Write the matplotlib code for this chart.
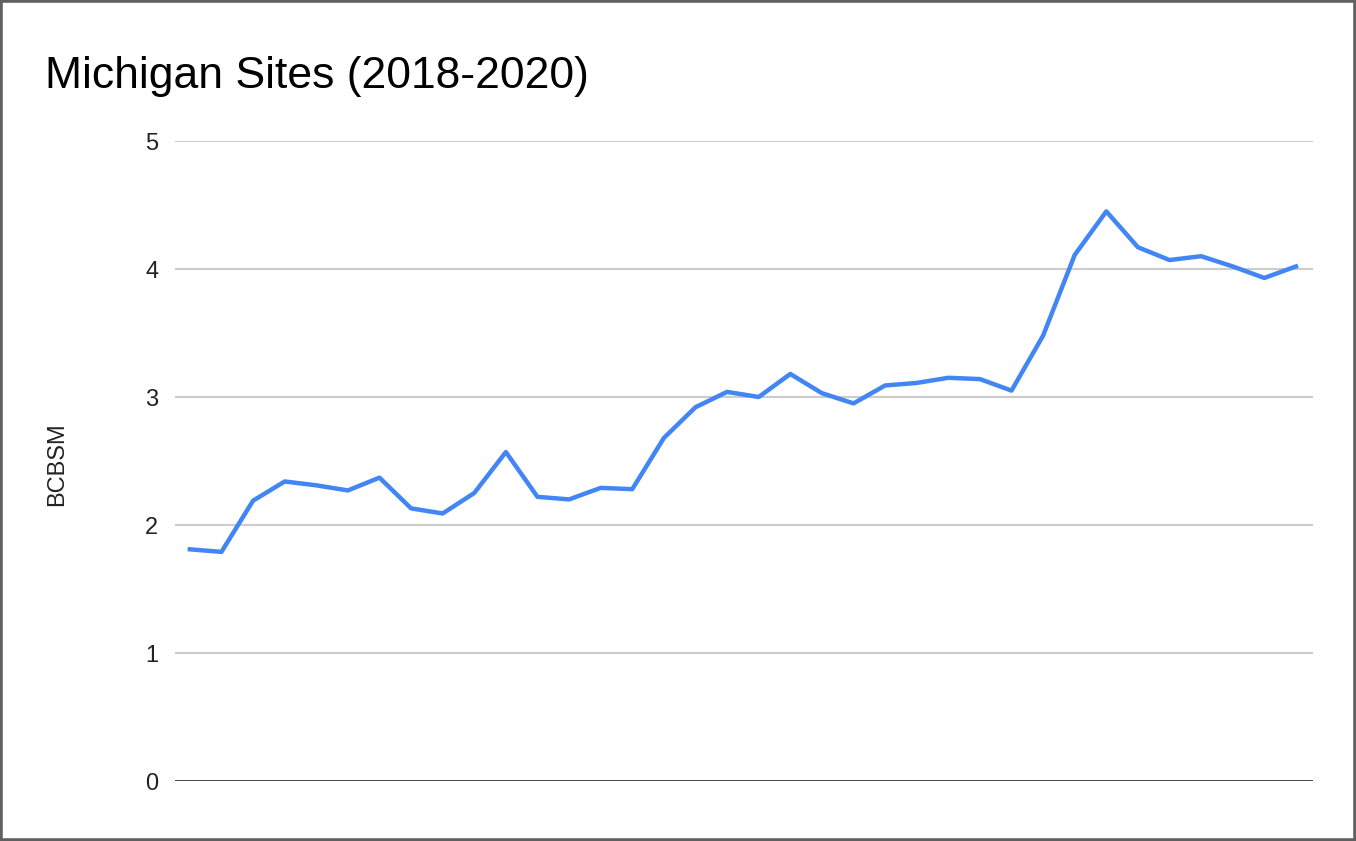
import numpy as np
import matplotlib.pyplot as plt
from matplotlib.patches import Rectangle

plt.rcParams['font.family'] = ['Liberation Sans', 'DejaVu Sans']

# BCBSM values, one per period (no x labels shown in the original)
periods = np.arange(36)
bcbsm = [1.81, 1.79, 2.19, 2.34, 2.31, 2.27, 2.37, 2.13, 2.09, 2.25,
         2.57, 2.22, 2.20, 2.29, 2.28, 2.68, 2.92, 3.04, 3.00, 3.18,
         3.03, 2.95, 3.09, 3.11, 3.15, 3.14, 3.05, 3.48, 4.11, 4.45,
         4.17, 4.07, 4.10, 4.02, 3.93, 4.02]
yticks = [0, 1, 2, 3, 4, 5]

W, H = 1356, 841
fig = plt.figure(figsize=(W / 100, H / 100), dpi=100)
ax = fig.add_axes([175 / W, 1 - 781 / H, (1313 - 175) / W, (781 - 141) / H])

# gridlines
for v in yticks[1:]:
    ax.axhline(v, color='#cccccc', lw=1.5, zorder=1)
ax.axhline(0, color='#333333', lw=2, zorder=2)

ax.plot(periods, bcbsm, color='#4285f4', lw=3.2, zorder=3,
        solid_joinstyle='round', clip_on=False)

ax.set_ylim(0, 5)
ax.set_xlim(-0.47, 35.54)
ax.set_yticks(yticks)
ax.set_yticklabels([str(v) for v in yticks], fontsize=17, color='#222222')
ax.set_xticks([])
ax.tick_params(axis='y', length=0, pad=12)
for s in ax.spines.values():
    s.set_visible(False)

ax.set_ylabel('BCBSM', fontsize=17, color='#222222')
ax.yaxis.set_label_coords((68 - 175) / (1313 - 175), 0.495)

fig.text(45 / W, 1 - 88 / H, 'Michigan Sites (2018-2020)', fontsize=32,
         color='#000000', va='baseline', ha='left')

# grey frame around the whole image
fig.patches.append(Rectangle((0, 0), 1, 1, transform=fig.transFigure,
                             fill=False, edgecolor='#606060', lw=4))

fig.savefig('out.png', dpi=100)
